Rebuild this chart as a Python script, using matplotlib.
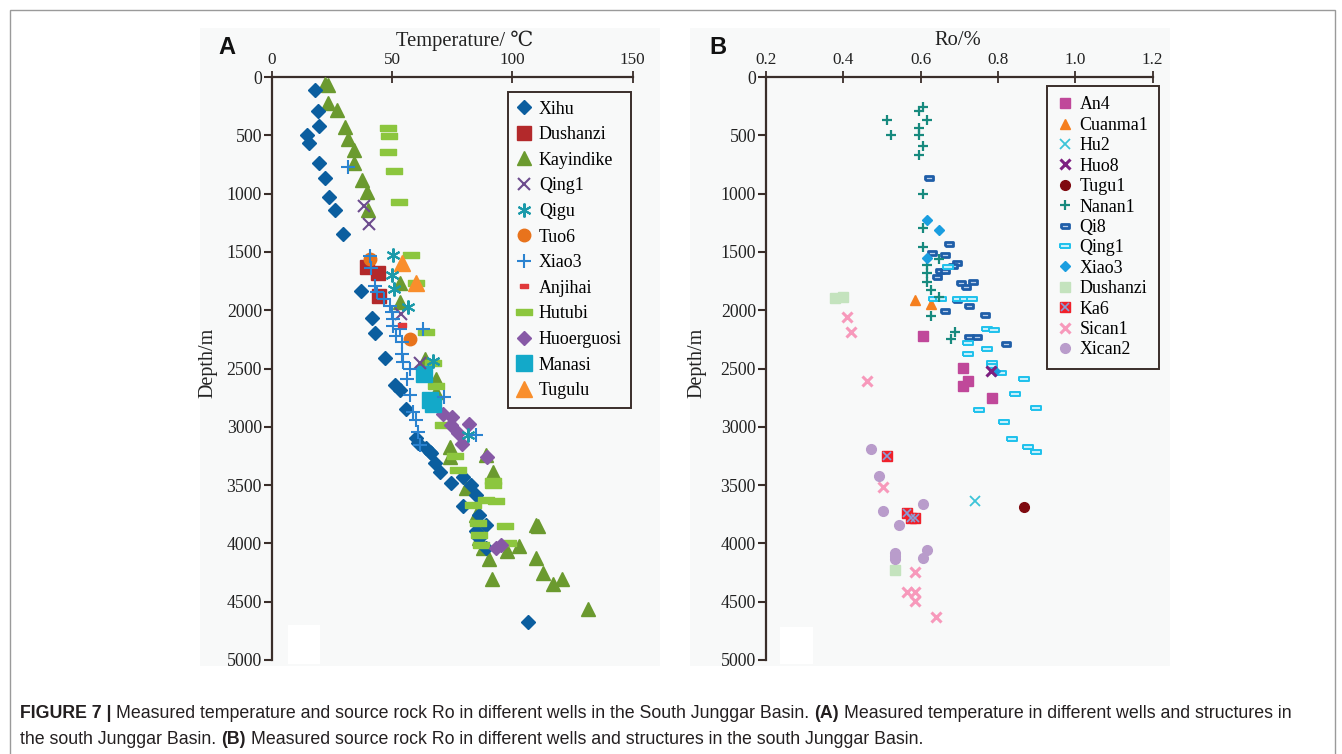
import matplotlib
matplotlib.use('Agg')
import matplotlib.pyplot as plt
from matplotlib.patches import Rectangle

plt.rcParams['font.family'] = ['Liberation Serif', 'DejaVu Serif', 'DejaVu Sans']

# ---------------- panel A: temperature (degC) vs depth (m) ----------------
xihu_t = [18.1, 19.1, 19.6, 14.5, 15.3, 19.5, 22.2, 23.7, 26.4, 29.7, 37.0, 41.7, 42.8, 47.0,
          51.1, 53.2, 55.9, 60.1, 60.8, 64.2, 65.6, 66.3, 67.7, 69.8, 74.6, 79.4, 82.9, 85.0,
          79.4, 86.3, 89.1, 85.0, 86.3, 89.1, 106.6]
xihu_d = [108, 293, 421, 497, 563, 734, 862, 1032, 1143, 1345, 1835, 2070, 2198, 2411,
          2645, 2688, 2844, 3100, 3142, 3185, 3213, 3228, 3313, 3384, 3478, 3427, 3498, 3583,
          3683, 3754, 3839, 3896, 3953, 4038, 4678]
dushanzi_t = [39.6, 44.2, 44.5]
dushanzi_d = [1627, 1683, 1882]
kayindike_t = [22.0, 23.6, 23.6, 27.2, 30.5, 31.9, 34.1, 34.4, 37.4, 39.6, 40.0, 53.2, 53.5,
               63.9, 68.1, 68.1, 73.9, 73.9, 89.1, 91.8, 91.8, 80.8, 85.0, 85.6, 86.3, 87.7,
               109.8, 110.5, 102.9, 97.8, 109.8, 112.6, 116.7, 120.8, 131.6, 91.4, 90.1]
kayindike_d = [56, 71, 222, 284, 432, 534, 625, 734, 881, 990, 1137, 1763, 1933,
               2417, 2588, 2702, 3171, 3256, 3242, 3384, 3455, 3526, 3754, 3839, 3953, 4038,
               3839, 3853, 4024, 4067, 4124, 4252, 4351, 4309, 4559, 4309, 4138]
qing1_t = [38.3, 40.4, 53.6, 61.5]
qing1_d = [1109, 1260, 2033, 2450]
qigu_t = [50.4, 50.0, 50.8, 56.6, 67.0, 81.5]
qigu_d = [1530, 1700, 1814, 1976, 2432, 3072]
tuo6_t = [41.0, 57.4]
tuo6_d = [1564, 2247]
xiao3_t = [31.9, 40.7, 41.4, 43.1, 43.9, 46.5, 49.0, 49.9, 50.4, 50.4, 51.5, 53.2, 54.1, 54.1,
           54.5, 57.3, 56.4, 57.3, 62.8, 58.7, 59.8, 60.8, 61.7, 71.8, 85.0]
xiao3_d = [768, 1536, 1635, 1792, 1848, 1905, 1962, 2019, 2076, 2133, 2218, 2161, 2275, 2375,
           2445, 2502, 2588, 2730, 2161, 2872, 2943, 3043, 3157, 2744, 3072]
anjihai_t = [54.1]
anjihai_d = [2124]
hutubi_t = [48.5, 48.9, 48.3, 50.7, 52.9, 57.7, 59.8, 64.2, 67.0, 68.1, 71.1, 76.2, 77.6, 89.1,
            93.2, 83.5, 97.1, 85.6, 86.3, 87.0, 98.1, 91.8, 91.8]
hutubi_d = [440, 503, 640, 802, 1069, 1524, 1763, 2184, 2451, 2650, 2986, 3250, 3370, 3626,
            3640, 3669, 3853, 3825, 3925, 4010, 3995, 3469, 3498]
huoerguosi_t = [71.1, 75.0, 74.6, 81.9, 77.3, 79.1, 89.4, 93.2, 95.3]
huoerguosi_d = [2886, 2915, 2986, 2972, 3057, 3151, 3256, 4038, 4015]
manasi_t = [63.2, 67.2, 65.6]
manasi_d = [2545, 2801, 2773]
tugulu_t = [54.1, 60.1]
tugulu_d = [1598, 1769]

# ---------------- panel B: Ro (%) vs depth (m) ----------------
an4_ro = [0.607, 0.711, 0.722, 0.711, 0.784]
an4_d = [2222, 2497, 2604, 2650, 2751]
cuanma1_ro = [0.587, 0.627]
cuanma1_d = [1909, 1944]
hu2_ro = [0.742]
hu2_d = [3637]
huo8_ro = [0.781]
huo8_d = [2520]
tugu1_ro = [0.867]
tugu1_d = [3691]
nanan1_ro = [0.607, 0.597, 0.618, 0.513, 0.524, 0.597, 0.597, 0.607, 0.596, 0.607, 0.607,
             0.607, 0.648, 0.618, 0.618, 0.618, 0.626, 0.626, 0.689, 0.679, 0.648]
nanan1_d = [258, 293, 370, 365, 497, 437, 497, 591, 666, 1005, 1298,
            1455, 1564, 1613, 1680, 1757, 1823, 2047, 2187, 2250, 1886]
qi8_ro = [0.622, 0.673, 0.631, 0.664, 0.694, 0.683, 0.650, 0.664, 0.643, 0.705, 0.717, 0.736,
          0.664, 0.725, 0.767, 0.725, 0.745, 0.820, 0.695]
qi8_d = [864, 1435, 1513, 1527, 1599, 1625, 1665, 1668, 1717, 1771, 1803, 1757,
         2010, 1966, 2044, 2228, 2228, 2288, 1915]
qing1b_ro = [0.636, 0.653, 0.672, 0.698, 0.715, 0.734, 0.773, 0.790, 0.722, 0.722, 0.773, 0.784,
             0.784, 0.808, 0.867, 0.845, 0.751, 0.898, 0.816, 0.837, 0.878, 0.898]
qing1b_d = [1906, 1906, 1628, 1906, 1906, 1906, 2161, 2173, 2279, 2374, 2333, 2449,
            2478, 2535, 2589, 2716, 2853, 2836, 2962, 3108, 3172, 3212]
xiao3b_ro = [0.618, 0.648, 0.618, 0.793]
xiao3b_d = [1223, 1309, 1550, 2520]
dushanzib_ro = [0.379, 0.399, 0.534]
dushanzib_d = [1894, 1886, 4225]
ka6_ro = [0.513, 0.564, 0.576, 0.587]
ka6_d = [3252, 3737, 3783, 3783]
sican1_ro = [0.409, 0.420, 0.462, 0.503, 0.587, 0.566, 0.587, 0.587, 0.639]
sican1_d = [2058, 2184, 2604, 3513, 4242, 4414, 4414, 4494, 4630]
xican2_ro = [0.472, 0.493, 0.503, 0.545, 0.607, 0.534, 0.534, 0.534, 0.618, 0.607]
xican2_d = [3194, 3424, 3723, 3843, 3659, 4081, 4107, 4133, 4053, 4124]

depth_ticks = list(range(0, 5001, 500))
temp_ticks = [0, 50, 100, 150]
ro_ticks = [0.2, 0.4, 0.6, 0.8, 1.0, 1.2]
ro_labels = ['0.2', '0.4', '0.6', '0.8', '1.0', '1.2']

W, H = 1342, 754
AXC = '#3a2e2a'
BG = '#f8f9f9'

fig = plt.figure(figsize=(W / 100, H / 100), dpi=100)
fig.patch.set_facecolor('white')


def frect(x0, y0, x1, y1, **kw):
    r = Rectangle((x0 / W, 1 - y1 / H), (x1 - x0) / W, (y1 - y0) / H,
                  transform=fig.transFigure, **kw)
    fig.add_artist(r)
    return r


def pbox(x0, y0, x1, y1):
    return [x0 / W, 1 - y1 / H, (x1 - x0) / W, (y1 - y0) / H]


# outer frame and panel backgrounds
frect(10, 10, 1335, 800, fill=False, edgecolor='#9a9a9a', lw=1.0, zorder=0)
frect(200, 28, 660, 666, facecolor=BG, edgecolor='none', zorder=0)
frect(690, 28, 1170, 666, facecolor=BG, edgecolor='none', zorder=0)
frect(288, 625, 320, 664, facecolor='white', edgecolor='none', zorder=0.5)
frect(780, 627, 813, 664, facecolor='white', edgecolor='none', zorder=0.5)

axA = fig.add_axes(pbox(271.7, 77, 632.7, 660))
axB = fig.add_axes(pbox(765.7, 77, 1152.7, 660))


def style(ax, xlim, xticks, xlabels):
    ax.set_facecolor('none')
    ax.set_xlim(*xlim)
    ax.set_ylim(5000, 0)
    ax.xaxis.tick_top()
    ax.set_xticks(xticks)
    ax.set_xticklabels(xlabels)
    ax.set_yticks(depth_ticks)
    for s in ('right', 'bottom'):
        ax.spines[s].set_visible(False)
    for s in ('left', 'top'):
        ax.spines[s].set_color(AXC)
        ax.spines[s].set_linewidth(1.6)
    ax.tick_params(axis='y', direction='out', length=6, width=1.5, color=AXC,
                   labelsize=12.8, pad=1, labelcolor='#222222')
    ax.tick_params(axis='x', direction='inout', length=9, width=1.3, color=AXC,
                   labelsize=12.3, pad=2, labelcolor='#222222')


style(axA, (0, 150), temp_ticks, [str(t) for t in temp_ticks])
style(axB, (0.2, 1.2), ro_ticks, ro_labels)


def rect_marker(h):
    return [(-1, -h), (1, -h), (1, h), (-1, h), (-1, -h)]


kw = dict(linestyle='none', clip_on=False)

# ---- panel A series ----
hA = []
hA.append(axA.plot(xihu_t, xihu_d, marker='D', ms=7, color='#0b5e9f', mec='#0b5e9f', label='Xihu', zorder=4, **kw)[0])
hA.append(axA.plot(dushanzi_t, dushanzi_d, marker='s', ms=9.5, color='#b3292b', label='Dushanzi', zorder=3, **kw)[0])
hA.append(axA.plot(kayindike_t, kayindike_d, marker='^', ms=10.5, color='#6b9a2f', label='Kayindike', zorder=3, **kw)[0])
hA.append(axA.plot(qing1_t, qing1_d, marker='x', ms=9, mew=1.5, color='#6d4c8e', label='Qing1', zorder=5, **kw)[0])
hA.append(axA.plot(qigu_t, qigu_d, marker=(6, 2, 0), ms=10, mew=1.5, color='#1b9aaa', label='Qigu', zorder=5, **kw)[0])
hA.append(axA.plot(tuo6_t, tuo6_d, marker='o', ms=9, color='#e8731c', label='Tuo6', zorder=4, **kw)[0])
hA.append(axA.plot(xiao3_t, xiao3_d, marker='+', ms=10, mew=1.5, color='#2b83d0', label='Xiao3', zorder=5, **kw)[0])
hA.append(axA.plot(anjihai_t, anjihai_d, marker=rect_marker(0.5), ms=6, color='#e0393b', label='Anjihai', zorder=5, **kw)[0])
hA.append(axA.plot(hutubi_t, hutubi_d, marker=rect_marker(0.33), ms=11, color='#8cc63e', label='Hutubi', zorder=4, **kw)[0])
hA.append(axA.plot(huoerguosi_t, huoerguosi_d, marker='D', ms=7.5, color='#8759a6', label='Huoerguosi', zorder=4, **kw)[0])
hA.append(axA.plot(manasi_t, manasi_d, marker='s', ms=11, color='#13a9c9', label='Manasi', zorder=4, **kw)[0])
hA.append(axA.plot(tugulu_t, tugulu_d, marker='^', ms=12, color='#f98e2c', label='Tugulu', zorder=4, **kw)[0])

# ---- panel B series ----
hB = []
hB.append(axB.plot(an4_ro, an4_d, marker='s', ms=7, color='#c0489a', label='An4', zorder=3, **kw)[0])
hB.append(axB.plot(cuanma1_ro, cuanma1_d, marker='^', ms=7.5, color='#f57f1f', label='Cuanma1', zorder=3, **kw)[0])
hB.append(axB.plot(hu2_ro, hu2_d, marker='x', ms=6.5, mew=1.3, color='#3cc4d8', label='Hu2', zorder=3, **kw)[0])
hB.append(axB.plot(huo8_ro, huo8_d, marker='x', ms=6.5, mew=2.2, color='#7d1f80', label='Huo8', zorder=5, **kw)[0])
hB.append(axB.plot(tugu1_ro, tugu1_d, marker='o', ms=7, color='#7f0a10', label='Tugu1', zorder=3, **kw)[0])
hB.append(axB.plot(nanan1_ro, nanan1_d, marker='+', ms=7, mew=1.6, color='#178a7e', label='Nanan1', zorder=4, **kw)[0])
hB.append(axB.plot(qi8_ro, qi8_d, marker=rect_marker(0.55), ms=5.5, mew=2.0, color='#1f5ea8', mfc='#b8cdea', label='Qi8', zorder=3, **kw)[0])
hB.append(axB.plot(qing1b_ro, qing1b_d, marker=rect_marker(0.45), ms=7, mew=1.4, color='#1ec1ec', mfc='#c8effb', label='Qing1', zorder=3, **kw)[0])
hB.append(axB.plot(xiao3b_ro, xiao3b_d, marker='D', ms=5.5, color='#1a9ee0', label='Xiao3', zorder=4, **kw)[0])
hB.append(axB.plot(dushanzib_ro, dushanzib_d, marker='s', ms=7, color='#c4e3be', label='Dushanzi', zorder=3, **kw)[0])
ka6_sq = axB.plot(ka6_ro, ka6_d, marker='s', ms=7, color='#f0202a', zorder=3, **kw)[0]
ka6_x = axB.plot(ka6_ro, ka6_d, marker='x', ms=5.5, mew=1.2, color='#8a9ed6', zorder=3.1, **kw)[0]
hB.append((ka6_sq, ka6_x))
hB.append(axB.plot(sican1_ro, sican1_d, marker='x', ms=6.5, mew=2.2, color='#f799bb', label='Sican1', zorder=3, **kw)[0])
hB.append(axB.plot(xican2_ro, xican2_d, marker='o', ms=7, color='#b99ccb', label='Xican2', zorder=3, **kw)[0])
labB = ['An4', 'Cuanma1', 'Hu2', 'Huo8', 'Tugu1', 'Nanan1', 'Qi8', 'Qing1', 'Xiao3',
        'Dushanzi', 'Ka6', 'Sican1', 'Xican2']

legA = axA.legend(handles=hA, labels=[h.get_label() for h in hA], loc='upper right',
                  bbox_to_anchor=(0.995, 0.975), borderaxespad=0, fontsize=12.9,
                  handlelength=0.75, handletextpad=0.45, labelspacing=0.48, borderpad=0.5,
                  fancybox=False, framealpha=1, facecolor=BG, edgecolor=AXC)
legA.get_frame().set_linewidth(1.4)
legB = axB.legend(handles=hB, labels=labB, loc='upper right',
                  bbox_to_anchor=(1.016, 0.985), borderaxespad=0, fontsize=12.9,
                  handlelength=0.75, handletextpad=0.45, labelspacing=0.19, borderpad=0.6,
                  fancybox=False, framealpha=1, facecolor=BG, edgecolor=AXC)
legB.get_frame().set_linewidth(1.4)

# axis titles
axA.text(0.535, 1.062, 'Temperature/ \u2103', transform=axA.transAxes, ha='center', va='center',
         fontsize=14.8, color='#222222')
axB.text(0.497, 1.062, 'Ro/%', transform=axB.transAxes, ha='center', va='center',
         fontsize=14.8, color='#222222')
axA.text(-0.176, 0.51, 'Depth/m', transform=axA.transAxes, ha='center', va='center',
         rotation=90, fontsize=14.5, color='#222222')
axB.text(-0.178, 0.51, 'Depth/m', transform=axB.transAxes, ha='center', va='center',
         rotation=90, fontsize=14.5, color='#222222')

# panel letters
fig.text(227 / W, 1 - 47 / H, 'A', fontsize=17, fontweight='bold', family='Liberation Sans',
         ha='center', va='center', color='#111111')
fig.text(718 / W, 1 - 47 / H, 'B', fontsize=17, fontweight='bold', family='Liberation Sans',
         ha='center', va='center', color='#111111')

# caption
CAPC = '#231f20'
CAPFS = 12.8
r = fig.canvas.get_renderer()
space = 0.278 * CAPFS * 100 / 72
line1 = [('FIGURE 7 |', True),
         ('Measured temperature and source rock Ro in different wells in the South Junggar Basin.', False),
         ('(A)', True), ('Measured temperature in different wells and structures in', False)]
line2 = [('the south Junggar Basin.', False), ('(B)', True),
         ('Measured source rock Ro in different wells and structures in the south Junggar Basin.', False)]
for parts, yb in ((line1, 718), (line2, 744)):
    x = 20
    for txt, bold in parts:
        t = fig.text(x / W, 1 - yb / H, txt, fontsize=CAPFS, family='Liberation Sans',
                     fontweight='bold' if bold else 'normal', color=CAPC, ha='left', va='baseline')
        bb = t.get_window_extent(renderer=r)
        x = bb.x1 + space

fig.savefig('out.png', dpi=100, facecolor='white')
